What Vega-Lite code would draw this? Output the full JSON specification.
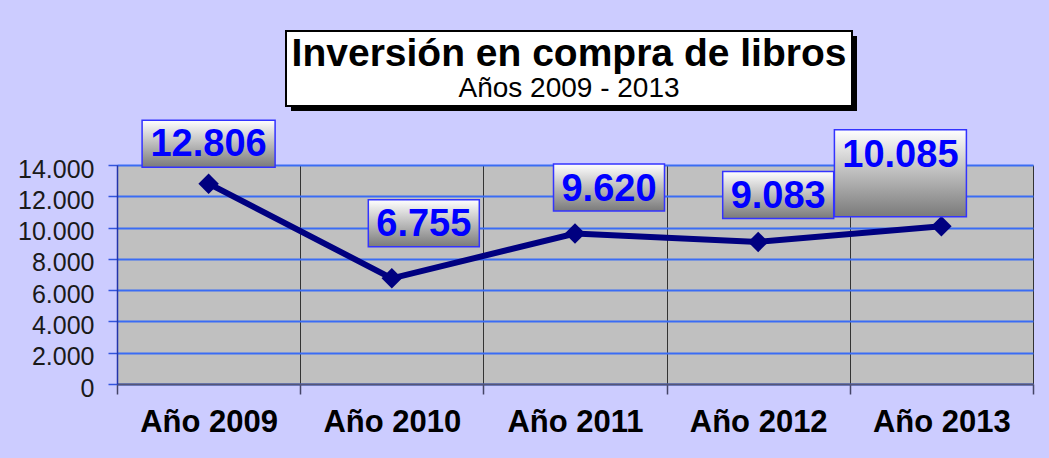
{
  "$schema": "https://vega.github.io/schema/vega-lite/v6.json",
  "width": 916,
  "height": 219,
  "autosize": {"type": "none"},
  "padding": {"left": 117, "top": 165, "right": 16, "bottom": 74},
  "background": "#CCCCFF",
  "config": {
    "view": {"fill": "#C0C0C0", "stroke": null},
    "locale": {"number": {"decimal": ",", "thousands": ".", "grouping": [3], "currency": ["", " €"]}}
  },
  "title": {
    "text": "Inversión en compra de libros",
    "subtitle": "Años 2009 - 2013",
    "anchor": "middle",
    "frame": "group",
    "dx": -6,
    "offset": -76,
    "font": "Liberation Sans",
    "fontSize": 39,
    "fontWeight": "bold",
    "color": "#000000",
    "subtitleFont": "Liberation Sans",
    "subtitleFontSize": 28,
    "subtitleColor": "#000000",
    "subtitlePadding": 1
  },
  "data": {
    "values": [
      {"year": "Año 2009", "value": 12806},
      {"year": "Año 2010", "value": 6755},
      {"year": "Año 2011", "value": 9620},
      {"year": "Año 2012", "value": 9083},
      {"year": "Año 2013", "value": 10085}
    ]
  },
  "encoding": {
    "x": {
      "field": "year", "type": "nominal",
      "scale": {"domain": ["Año 2009", "Año 2010", "Año 2011", "Año 2012", "Año 2013"], "paddingInner": 0, "paddingOuter": 0},
      "axis": {
        "title": null, "labelAngle": 0, "tickBand": "extent",
        "labelFont": "Liberation Sans", "labelFontWeight": "bold", "labelFontSize": 31, "labelColor": "#000000",
        "labelPadding": 13, "tickSize": 10, "tickColor": "#444466", "tickWidth": 1.5,
        "domainColor": "#555577", "domainWidth": 2,
        "grid": true, "gridColor": "#333333", "gridWidth": 1
      }
    },
    "y": {
      "field": "value", "type": "quantitative",
      "scale": {"domain": [0, 14000], "nice": false},
      "axis": {
        "title": null, "values": [0, 2000, 4000, 6000, 8000, 10000, 12000, 14000], "format": ",d",
        "labelFont": "Liberation Sans", "labelFontSize": 25, "labelColor": "#1a1a1a",
        "labelPadding": 14, "labelOffset": 4, "tickSize": 9, "tickColor": "#3355dd", "tickWidth": 1.5,
        "domainColor": "#2233aa", "domainWidth": 1.5,
        "grid": true, "gridColor": "#3a6cf4", "gridWidth": 2
      }
    }
  },
  "layer": [
    {
      "transform": [{"filter": "datum.year === 'Año 2011'"}],
      "layer": [
        {
          "mark": {"type": "point", "shape": "M-1,-0.1325H1V0.1325H-1Z", "size": 320356, "filled": true, "opacity": 1, "fill": "#000000", "strokeWidth": 0, "xOffset": -1, "yOffset": -91.5},
          "encoding": {"x": {"datum": "Año 2011", "type": "nominal"}, "y": {"datum": 14000, "type": "quantitative"}}
        },
        {
          "mark": {"type": "point", "shape": "M-1,-0.1325H1V0.1325H-1Z", "size": 320356, "filled": true, "opacity": 1, "fill": "#ffffff", "stroke": "#000000", "strokeWidth": 2, "xOffset": -6, "yOffset": -96.5},
          "encoding": {"x": {"datum": "Año 2011", "type": "nominal"}, "y": {"datum": 14000, "type": "quantitative"}}
        }
      ]
    },
    {"mark": {"type": "line", "color": "#000080", "strokeWidth": 6}},
    {"mark": {"type": "point", "shape": "diamond", "filled": true, "opacity": 1, "color": "#000080", "size": 420}},
    {
      "transform": [{"filter": "datum.year === 'Año 2009'"}],
      "layer": [
        {"mark": {"type": "point", "shape": "M-1,-0.3534H1V0.3534H-1Z", "size": 17689, "filled": true, "opacity": 1,
          "fill": {"gradient": "linear", "x1": 0, "y1": 0, "x2": 0, "y2": 1, "stops": [{"offset": 0, "color": "#ffffff"}, {"offset": 1, "color": "#7a7a7a"}]},
          "stroke": "#3333ff", "strokeWidth": 1.5, "xOffset": 0, "yOffset": -40}},
        {"mark": {"type": "text", "font": "Liberation Sans", "fontWeight": "bold", "fontSize": 38, "fill": "#0000ff", "baseline": "alphabetic", "dx": 0, "dy": -28},
          "encoding": {"text": {"field": "value", "type": "quantitative", "format": ",d"}}}
      ]
    },
    {
      "transform": [{"filter": "datum.year === 'Año 2010'"}],
      "layer": [
        {"mark": {"type": "point", "shape": "M-1,-0.4234H1V0.4234H-1Z", "size": 12321, "filled": true, "opacity": 1,
          "fill": {"gradient": "linear", "x1": 0, "y1": 0, "x2": 0, "y2": 1, "stops": [{"offset": 0, "color": "#ffffff"}, {"offset": 1, "color": "#7a7a7a"}]},
          "stroke": "#3333ff", "strokeWidth": 1.5, "xOffset": 32, "yOffset": -55}},
        {"mark": {"type": "text", "font": "Liberation Sans", "fontWeight": "bold", "fontSize": 38, "fill": "#0000ff", "baseline": "alphabetic", "dx": 32, "dy": -42},
          "encoding": {"text": {"field": "value", "type": "quantitative", "format": ",d"}}}
      ]
    },
    {
      "transform": [{"filter": "datum.year === 'Año 2011'"}],
      "layer": [
        {"mark": {"type": "point", "shape": "M-1,-0.4234H1V0.4234H-1Z", "size": 12321, "filled": true, "opacity": 1,
          "fill": {"gradient": "linear", "x1": 0, "y1": 0, "x2": 0, "y2": 1, "stops": [{"offset": 0, "color": "#ffffff"}, {"offset": 1, "color": "#7a7a7a"}]},
          "stroke": "#3333ff", "strokeWidth": 1.5, "xOffset": 34, "yOffset": -46}},
        {"mark": {"type": "text", "font": "Liberation Sans", "fontWeight": "bold", "fontSize": 38, "fill": "#0000ff", "baseline": "alphabetic", "dx": 34, "dy": -33},
          "encoding": {"text": {"field": "value", "type": "quantitative", "format": ",d"}}}
      ]
    },
    {
      "transform": [{"filter": "datum.year === 'Año 2012'"}],
      "layer": [
        {"mark": {"type": "point", "shape": "M-1,-0.4234H1V0.4234H-1Z", "size": 12321, "filled": true, "opacity": 1,
          "fill": {"gradient": "linear", "x1": 0, "y1": 0, "x2": 0, "y2": 1, "stops": [{"offset": 0, "color": "#ffffff"}, {"offset": 1, "color": "#7a7a7a"}]},
          "stroke": "#3333ff", "strokeWidth": 1.5, "xOffset": 20, "yOffset": -47}},
        {"mark": {"type": "text", "font": "Liberation Sans", "fontWeight": "bold", "fontSize": 38, "fill": "#0000ff", "baseline": "alphabetic", "dx": 20, "dy": -34},
          "encoding": {"text": {"field": "value", "type": "quantitative", "format": ",d"}}}
      ]
    },
    {
      "transform": [{"filter": "datum.year === 'Año 2013'"}],
      "layer": [
        {"mark": {"type": "point", "shape": "M-1,-0.659H1V0.659H-1Z", "size": 17424, "filled": true, "opacity": 1,
          "fill": {"gradient": "linear", "x1": 0, "y1": 0, "x2": 0, "y2": 1, "stops": [{"offset": 0, "color": "#ffffff"}, {"offset": 1, "color": "#7a7a7a"}]},
          "stroke": "#3333ff", "strokeWidth": 1.5, "xOffset": -41, "yOffset": -53}},
        {"mark": {"type": "text", "font": "Liberation Sans", "fontWeight": "bold", "fontSize": 38, "fill": "#0000ff", "baseline": "alphabetic", "dx": -41, "dy": -59},
          "encoding": {"text": {"field": "value", "type": "quantitative", "format": ",d"}}}
      ]
    }
  ]
}
